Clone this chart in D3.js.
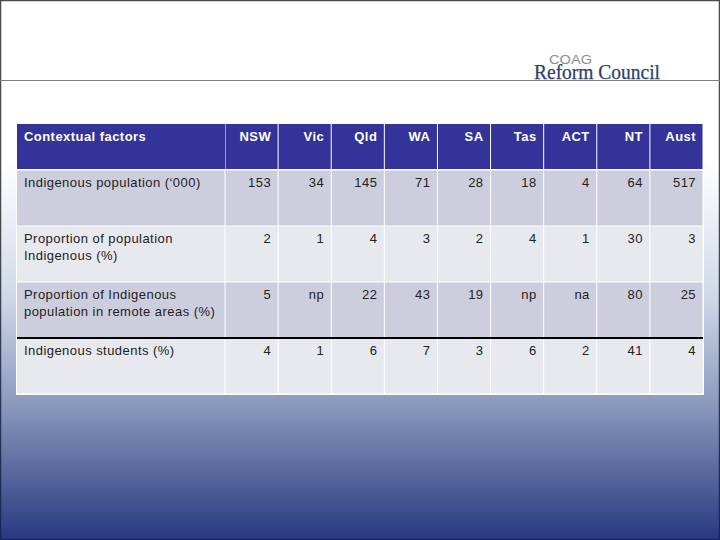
<!DOCTYPE html>
<html>
<head>
<meta charset="utf-8">
<script src="https://cdn.jsdelivr.net/npm/d3@7"></script>
<style>
html, body { margin: 0; padding: 0; background: #fff; }
svg { display: block; }
text { font-family: "Liberation Sans", Arial, sans-serif; }
.tbl text { letter-spacing: 0.45px; }
</style>
</head>
<body>
<div id="chart"></div>
<script>
// Table contents
const headerTitle = "Contextual factors";
const regions = ["NSW", "Vic", "Qld", "WA", "SA", "Tas", "ACT", "NT", "Aust"];
const factors = [
    ["Indigenous population (\u2018000)"],
    ["Proportion of population", "Indigenous (%)"],
    ["Proportion of Indigenous", "population in remote areas (%)"],
    ["Indigenous students (%)"]
];
const population = ["153", "34", "145", "71", "28", "18", "4", "64", "517"];
const proportion = ["2", "1", "4", "3", "2", "4", "1", "30", "3"];
const remote = ["5", "np", "22", "43", "19", "np", "na", "80", "25"];
const students = ["4", "1", "6", "7", "3", "6", "2", "41", "4"];
const rowValues = [population, proportion, remote, students];

const width = 720;
const height = 540;

const svg = d3.select("#chart")
    .append("svg")
    .attr("width", width)
    .attr("height", height);

const defs = svg.append("defs");

// Slide background
const grad = defs.append("linearGradient")
    .attr("id", "bg")
    .attr("x1", 0).attr("y1", 0).attr("x2", 0).attr("y2", 1);
grad.append("stop").attr("offset", "0.3").attr("stop-color", "#ffffff");
grad.append("stop").attr("offset", "0.55").attr("stop-color", "#d0d8e8");
grad.append("stop").attr("offset", "0.74").attr("stop-color", "#8d9cbf");
grad.append("stop").attr("offset", "1").attr("stop-color", "#26397f");

const frameGrad = defs.append("linearGradient")
    .attr("id", "frame")
    .attr("gradientUnits", "userSpaceOnUse")
    .attr("x1", 0).attr("y1", 0).attr("x2", 0).attr("y2", height);
frameGrad.append("stop").attr("offset", "0.4").attr("stop-color", "#4a4a4a");
frameGrad.append("stop").attr("offset", "1").attr("stop-color", "#16265c");

svg.append("rect")
    .attr("width", width)
    .attr("height", height)
    .attr("fill", "url(#bg)");

svg.append("rect")
    .attr("x", 0.5).attr("y", 0.5)
    .attr("width", width - 1).attr("height", height - 1)
    .attr("fill", "none")
    .attr("stroke", "url(#frame)")
    .attr("stroke-width", 1.5);

// Header rule and logo
svg.append("line")
    .attr("x1", 0).attr("x2", width)
    .attr("y1", 80.5).attr("y2", 80.5)
    .attr("stroke", "#808080")
    .attr("stroke-width", 1);

svg.append("text")
    .attr("x", 549).attr("y", 64)
    .attr("textLength", 43)
    .attr("lengthAdjust", "spacingAndGlyphs")
    .attr("font-size", 13)
    .attr("fill", "#8a8d92")
    .text("COAG");

svg.append("text")
    .attr("x", 534).attr("y", 78.5)
    .attr("textLength", 126)
    .attr("lengthAdjust", "spacingAndGlyphs")
    .attr("font-size", 20)
    .attr("fill", "#2b3f6b")
    .attr("stroke", "#2b3f6b")
    .attr("stroke-width", 0.25)
    .style("font-family", "'Liberation Serif', serif")
    .text("Reform Council");

// Scales
const x = d3.scaleBand()
    .domain(regions)
    .range([225, 703]);

const y = d3.scaleBand()
    .domain(d3.range(factors.length))
    .range([170, 394]);

const tableLeft = 17;
const tableRight = 703;
const headerTop = 124;
const headerBottom = 169;
const gap = 1;

const g = svg.append("g").attr("class", "tbl");

// White backing shows through as the table's grid and outer border
g.append("rect")
    .attr("x", tableLeft - 1).attr("y", headerBottom)
    .attr("width", tableRight - tableLeft + 2)
    .attr("height", y.range()[1] + 1 - headerBottom)
    .attr("fill", "#ffffff");

// Header cells
g.append("rect")
    .attr("x", tableLeft).attr("y", headerTop)
    .attr("width", 225 - tableLeft).attr("height", headerBottom - headerTop)
    .attr("fill", "#333399");

g.selectAll(".head-cell")
    .data(regions)
    .enter().append("rect")
    .attr("class", "head-cell")
    .attr("x", d => x(d) + gap / 2)
    .attr("y", headerTop)
    .attr("width", x.bandwidth() - gap)
    .attr("height", headerBottom - headerTop)
    .attr("fill", "#333399");

g.append("text")
    .attr("x", 24).attr("y", 141)
    .attr("font-size", 13)
    .attr("font-weight", "bold")
    .attr("fill", "#ffffff")
    .text(headerTitle);

g.selectAll(".head-label")
    .data(regions)
    .enter().append("text")
    .attr("class", "head-label")
    .attr("x", d => x(d) + x.bandwidth() - 7)
    .attr("y", 141)
    .attr("text-anchor", "end")
    .attr("font-size", 13)
    .attr("font-weight", "bold")
    .attr("fill", "#ffffff")
    .text(d => d);

// Body rows
const rows = g.selectAll(".row")
    .data(factors)
    .enter().append("g")
    .attr("class", "row")
    .attr("transform", (d, i) => `translate(0,${y(i)})`);

const rowFill = (i) => i % 2 === 1 ? "#e8e9ee" : "#cdcedd";

rows.append("rect")
    .attr("x", tableLeft).attr("y", gap / 2)
    .attr("width", 225 - tableLeft - gap / 2).attr("height", y.bandwidth() - gap)
    .attr("fill", (d, i) => rowFill(i));

rows.each(function (d, i) {
    const row = d3.select(this);
    row.selectAll(".cell")
        .data(regions)
        .enter().append("rect")
        .attr("class", "cell")
        .attr("x", r => x(r) + gap / 2)
        .attr("y", gap / 2)
        .attr("width", x.bandwidth() - gap)
        .attr("height", y.bandwidth() - gap)
        .attr("fill", rowFill(i));
    row.selectAll(".value")
        .data(rowValues[i])
        .enter().append("text")
        .attr("class", "value")
        .attr("x", (v, j) => x(regions[j]) + x.bandwidth() - 7)
        .attr("y", 17)
        .attr("text-anchor", "end")
        .attr("font-size", 13)
        .attr("fill", "#222222")
        .text(v => v);
    row.selectAll(".factor")
        .data(d)
        .enter().append("text")
        .attr("class", "factor")
        .attr("x", 24)
        .attr("y", (t, j) => 17 + j * 17)
        .attr("font-size", 13)
        .attr("fill", "#222222")
        .text(t => t);
});

// Heavy rule above last row
g.append("line")
    .attr("x1", tableLeft).attr("x2", tableRight)
    .attr("y1", y(3)).attr("y2", y(3))
    .attr("stroke", "#000000")
    .attr("stroke-width", 2);
</script>
</body>
</html>
